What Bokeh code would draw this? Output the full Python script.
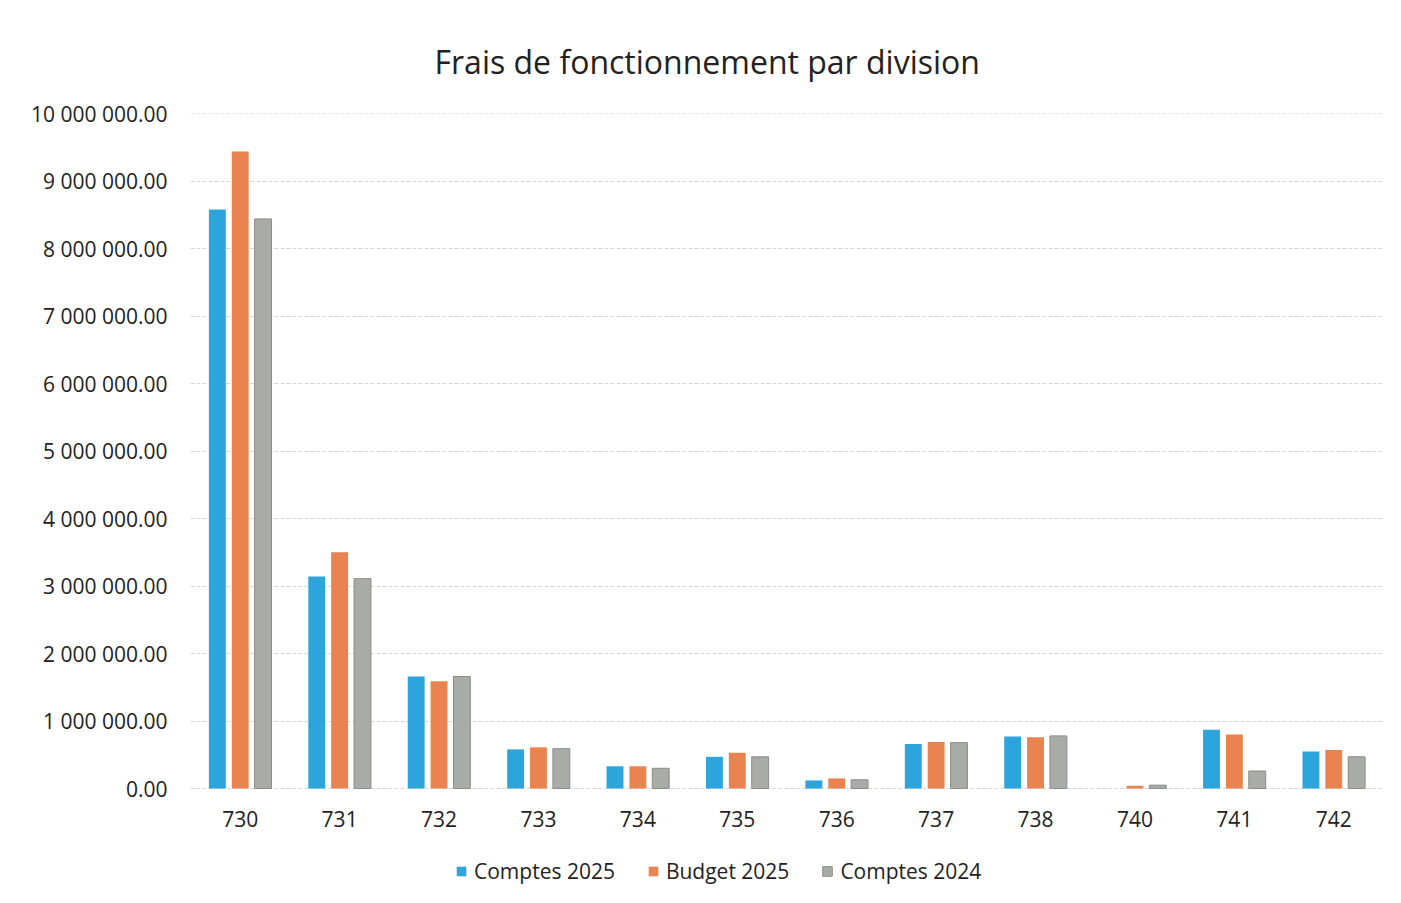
from bokeh.plotting import figure
from bokeh.models import ColumnDataSource, FactorRange, Range1d, CustomJSTickFormatter, FixedTicker
from bokeh.transform import dodge
from bokeh.core.properties import value
from bokeh.embed import file_html
from bokeh.resources import INLINE

divisions = ["730", "731", "732", "733", "734", "735", "736", "737", "738", "740", "741", "742"]
comptes_2025 = [8580000, 3140000, 1660000, 580000, 330000, 470000, 120000, 660000, 770000, 0, 870000, 550000]
budget_2025 = [9440000, 3500000, 1590000, 610000, 330000, 530000, 150000, 690000, 760000, 40000, 800000, 570000]
comptes_2024 = [8440000, 3110000, 1660000, 590000, 300000, 470000, 130000, 680000, 780000, 50000, 260000, 470000]
series_names = ["Comptes 2025", "Budget 2025", "Comptes 2024"]
y_ticks = [0, 1e6, 2e6, 3e6, 4e6, 5e6, 6e6, 7e6, 8e6, 9e6, 1e7]

FONT = "Open Sans"
colors = ["#2ca5dc", "#e9834f", "#a8aba6"]
outlines = [None, None, "#8a8d88"]

src = ColumnDataSource(dict(division=divisions, c25=comptes_2025, b25=budget_2025, c24=comptes_2024))
lab = ColumnDataSource(dict(division=divisions, zero=[0] * len(divisions)))

# frame extends below zero so that category labels and legend sit inside it
p = figure(x_range=FactorRange(*divisions, range_padding=0), y_range=Range1d(-1585000, 10002000),
           width=1395, height=895, output_backend="svg", toolbar_location=None,
           min_border_left=190, min_border_right=12, min_border_top=113, min_border_bottom=0)
p.outline_line_color = None

offsets = [-0.23, 0.0, 0.23]
for key, name, col, oc, off in zip(["c25", "b25", "c24"], series_names, colors, outlines, offsets):
    p.vbar(x=dodge("division", off, range=p.x_range), top=key, width=0.17, source=src,
           fill_color=col, line_color=oc, line_width=1, legend_label=name)

# category labels under the zero line
p.text(x="division", y="zero", text="division", source=lab, y_offset=30,
       text_align="center", text_baseline="middle", text_font=value(FONT),
       text_font_size="21px", text_color="#222222")

# axes
p.xaxis.visible = False
p.yaxis.ticker = FixedTicker(ticks=y_ticks)
p.yaxis.formatter = CustomJSTickFormatter(code="""
const s = tick.toFixed(2);
const parts = s.split('.');
return parts[0].replace(/\\B(?=(\\d{3})+(?!\\d))/g, ' ') + '.' + parts[1];
""")
p.yaxis.axis_line_color = None
p.yaxis.major_tick_line_color = None
p.yaxis.minor_tick_line_color = None
p.yaxis.major_tick_out = 0
p.yaxis.major_label_standoff = 23
p.yaxis.major_label_text_font = FONT
p.yaxis.major_label_text_font_size = "21px"
p.yaxis.major_label_text_color = "#222222"

p.xgrid.grid_line_color = None
p.ygrid.ticker = FixedTicker(ticks=y_ticks)
p.ygrid.grid_line_color = "#d6d6d6"
p.ygrid.grid_line_dash = "4 2"

# title
p.title.text = "Frais de fonctionnement par division"
p.title.align = "left"
p.title.offset = 244
p.title.standoff = 61
p.title.text_font = FONT
p.title.text_font_size = "32px"
p.title.text_font_style = "normal"
p.title.text_color = "#222222"

# legend
lg = p.legend[0]
lg.orientation = "horizontal"
lg.location = (265, 10)
lg.padding = 0
lg.margin = 0
lg.spacing = 32
lg.glyph_width = 12
lg.glyph_height = 12
lg.label_standoff = 7
lg.label_text_font = FONT
lg.label_text_font_size = "21px"
lg.label_text_color = "#222222"
lg.border_line_alpha = 0
lg.background_fill_alpha = 0

open("out.html", "w").write(file_html(p, INLINE))
